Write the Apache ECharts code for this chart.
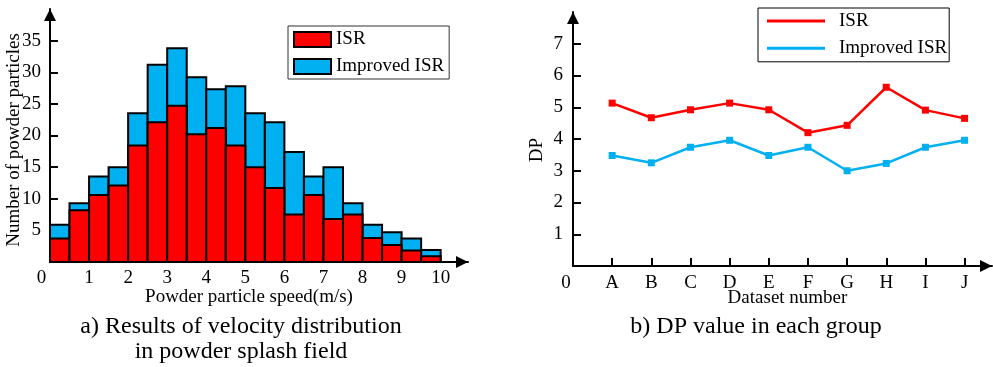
<!DOCTYPE html>
<html>
<head>
<meta charset="utf-8">
<title>ISR vs Improved ISR</title>
<script src="https://cdn.jsdelivr.net/npm/echarts@6/dist/echarts.min.js"></script>
<style>
html, body { margin: 0; padding: 0; background: #fff; }
#chart { width: 993px; height: 367px; }
</style>
</head>
<body>
<div id="chart"></div>
<script>
// a) speed histogram, bins of 0.5 m/s
const binLow  = [0, 0.5, 1, 1.5, 2, 2.5, 3, 3.5, 4, 4.5, 5, 5.5, 6, 6.5, 7, 7.5, 8, 8.5, 9, 9.5];
const binHigh = [0.5, 1, 1.5, 2, 2.5, 3, 3.5, 4, 4.5, 5, 5.5, 6, 6.5, 7, 7.5, 8, 8.5, 9, 9.5, 10];
const isrCounts      = [3.7, 8.2, 10.6, 12.1, 18.4, 22.1, 24.7, 20.2, 21.2, 18.4, 15.0, 11.7, 7.5, 10.6, 6.8, 7.5, 3.8, 2.7, 1.8, 0.9];
const improvedCounts = [5.9, 9.3, 13.5, 15.0, 23.5, 31.2, 33.8, 29.2, 27.3, 27.8, 23.5, 22.1, 17.4, 13.5, 15.0, 9.3, 5.9, 4.7, 3.7, 1.9];
const speedTicks = [0, 1, 2, 3, 4, 5, 6, 7, 8, 9, 10];
const countTicks = [5, 10, 15, 20, 25, 30, 35];

// b) DP per dataset
const datasets   = ['A', 'B', 'C', 'D', 'E', 'F', 'G', 'H', 'I', 'J'];
const dpISR      = [5.13, 4.67, 4.92, 5.13, 4.92, 4.2, 4.43, 5.63, 4.91, 4.65];
const dpImproved = [3.48, 3.25, 3.74, 3.96, 3.48, 3.74, 3.0, 3.23, 3.74, 3.96];
const dpTicks    = [1, 2, 3, 4, 5, 6, 7];
const datasetTicks = [1, 2, 3, 4, 5, 6, 7, 8, 9, 10];

const RED = '#ff0000';
const BLUE = '#00b0f0';
const FONT = 'Liberation Serif';

// legend names have to be unique across both charts
const legendText = { isr: 'ISR', imp: 'Improved ISR', dpIsr: 'ISR', dpImp: 'Improved ISR' };

function histData(counts) {
  return counts.map((v, i) => [binLow[i], binHigh[i], v]);
}

function histBar(color) {
  return function (params, api) {
    const a = api.coord([api.value(0), 0]);
    const b = api.coord([api.value(1), api.value(2)]);
    return {
      type: 'rect',
      shape: { x: a[0], y: b[1], width: b[0] - a[0], height: a[1] - b[1] },
      style: { fill: color, stroke: '#000', lineWidth: 2 }
    };
  };
}

const axisLineStyle = {
  show: true,
  symbol: ['none', 'triangle'],
  symbolSize: [12, 12],
  symbolOffset: [0, -6],
  lineStyle: { color: '#000', width: 2 }
};

var myChart = echarts.init(document.getElementById('chart'));

var option = {
  animation: false,
  textStyle: { fontFamily: FONT, color: '#000' },
  grid: [
    { left: 50, right: 525, top: 9, bottom: 105 },
    { left: 573, right: 1, top: 12, bottom: 101 }
  ],
  xAxis: [
    {
      gridIndex: 0,
      type: 'value',
      min: 0,
      max: 10.7,
      interval: 1,
      axisLine: axisLineStyle,
      axisTick: { show: false },
      splitLine: { show: false },
      axisLabel: {
        customValues: speedTicks,
        margin: 7,
        fontSize: 19,
        fontFamily: FONT,
        color: '#000',
        formatter: v => v === 0 ? '{o|0}' : (Number.isInteger(v) ? String(v) : ''),
        rich: { o: { fontSize: 19, fontFamily: FONT, padding: [0, 17, 0, 0] } }
      },
      name: 'Powder particle speed(m/s)',
      nameLocation: 'middle',
      nameGap: 26,
      nameMoveOverlap: false,
      nameTextStyle: { fontSize: 19, fontFamily: FONT, color: '#000', padding: [0, 20, 0, 0] }
    },
    {
      gridIndex: 1,
      type: 'value',
      min: 0,
      max: 10.7,
      interval: 1,
      axisLine: axisLineStyle,
      axisTick: { show: true, inside: true, length: 8, customValues: datasetTicks, lineStyle: { color: '#000', width: 2 } },
      splitLine: { show: false },
      axisLabel: {
        customValues: [0].concat(datasetTicks),
        margin: 8,
        fontSize: 19,
        fontFamily: FONT,
        color: '#000',
        formatter: v => v === 0 ? '{o|0}' : (datasets[v - 1] || ''),
        rich: { o: { fontSize: 19, fontFamily: FONT, padding: [0, 14, 0, 0] } }
      },
      name: 'Dataset number',
      nameLocation: 'middle',
      nameGap: 23,
      nameMoveOverlap: false,
      nameTextStyle: { fontSize: 19, fontFamily: FONT, color: '#000', padding: [0, 0, 0, 10] }
    }
  ],
  yAxis: [
    {
      gridIndex: 0,
      type: 'value',
      min: 0,
      max: 40,
      interval: 5,
      axisLine: axisLineStyle,
      axisTick: { show: true, inside: true, length: 8, customValues: countTicks, lineStyle: { color: '#000', width: 2 } },
      splitLine: { show: false },
      axisLabel: { customValues: countTicks, margin: 9, fontSize: 19, fontFamily: FONT, color: '#000' },
      name: 'Number of powder particles',
      nameLocation: 'middle',
      nameGap: 26,
      nameMoveOverlap: false,
      nameTextStyle: { fontSize: 19, fontFamily: FONT, color: '#000', padding: [0, 9, 0, 0] }
    },
    {
      gridIndex: 1,
      type: 'value',
      min: 0,
      max: 8,
      interval: 1,
      axisLine: axisLineStyle,
      axisTick: { show: true, inside: true, length: 8, customValues: dpTicks, lineStyle: { color: '#000', width: 2 } },
      splitLine: { show: false },
      axisLabel: { customValues: dpTicks, margin: 10, fontSize: 19, fontFamily: FONT, color: '#000' },
      name: 'DP',
      nameLocation: 'middle',
      nameGap: 26,
      nameMoveOverlap: false,
      nameTextStyle: { fontSize: 19, fontFamily: FONT, color: '#000', padding: [0, 22, 0, 0] }
    }
  ],
  legend: [
    {
      data: ['isr', 'imp'],
      orient: 'vertical',
      left: 288,
      top: 26,
      padding: [3.5, 5, 2.5, 5],
      itemGap: 7,
      itemWidth: 37,
      itemHeight: 15,
      icon: 'rect',
      borderColor: '#333',
      borderWidth: 1,
      itemStyle: { borderColor: '#000', borderWidth: 2 },
      formatter: name => legendText[name],
      textStyle: { fontSize: 19, lineHeight: 20, fontFamily: FONT, color: '#000' }
    },
    {
      data: ['dpIsr', 'dpImp'],
      orient: 'vertical',
      left: 758,
      top: 8,
      padding: [3, 2, 3.5, 9],
      itemGap: 7.3,
      itemWidth: 58,
      itemHeight: 3,
      icon: 'rect',
      borderColor: '#000',
      borderWidth: 1,
      itemStyle: { borderWidth: 0 },
      formatter: name => legendText[name],
      textStyle: { fontSize: 19, lineHeight: 20, fontFamily: FONT, color: '#000', padding: [0, 0, 0, 9] }
    }
  ],
  graphic: [
    {
      type: 'text',
      x: 241,
      y: 314,
      style: {
        text: 'a) Results of velocity distribution\nin powder splash field',
        font: '24px "Liberation Serif"',
        lineHeight: 25,
        align: 'center',
        verticalAlign: 'top',
        fill: '#000'
      }
    },
    {
      type: 'text',
      x: 756,
      y: 314,
      style: {
        text: 'b) DP value in each group',
        font: '24px "Liberation Serif"',
        lineHeight: 25,
        align: 'center',
        verticalAlign: 'top',
        fill: '#000'
      }
    }
  ],
  series: [
    {
      name: 'imp',
      type: 'custom',
      xAxisIndex: 0,
      yAxisIndex: 0,
      itemStyle: { color: BLUE },
      encode: { x: [0, 1], y: 2 },
      renderItem: histBar(BLUE),
      data: histData(improvedCounts),
      z: 2
    },
    {
      name: 'isr',
      type: 'custom',
      xAxisIndex: 0,
      yAxisIndex: 0,
      itemStyle: { color: RED },
      encode: { x: [0, 1], y: 2 },
      renderItem: histBar(RED),
      data: histData(isrCounts),
      z: 3
    },
    {
      name: 'dpIsr',
      type: 'line',
      xAxisIndex: 1,
      yAxisIndex: 1,
      symbol: 'rect',
      symbolSize: 7,
      color: RED,
      lineStyle: { width: 2.5, color: RED },
      data: dpISR.map((v, i) => [i + 1, v])
    },
    {
      name: 'dpImp',
      type: 'line',
      xAxisIndex: 1,
      yAxisIndex: 1,
      symbol: 'rect',
      symbolSize: 7,
      color: BLUE,
      lineStyle: { width: 2.5, color: BLUE },
      data: dpImproved.map((v, i) => [i + 1, v])
    }
  ]
};

myChart.setOption(option);
</script>
</body>
</html>
